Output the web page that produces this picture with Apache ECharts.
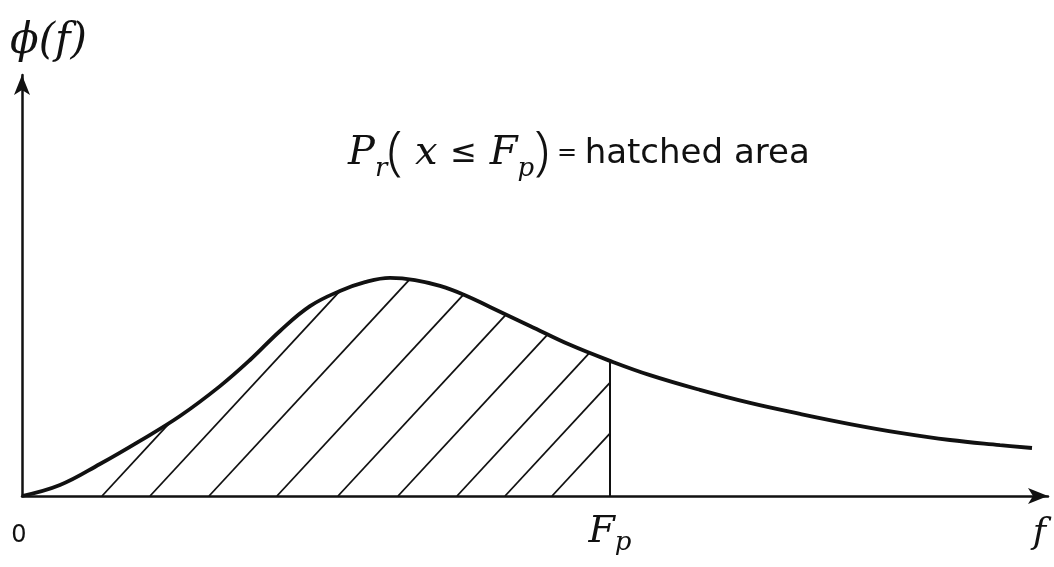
<!DOCTYPE html>
<html>
<head>
<meta charset="utf-8">
<script src="https://cdn.jsdelivr.net/npm/echarts@6/dist/echarts.min.js"></script>
<style>
  html, body { margin: 0; padding: 0; background: #fff; }
  #chart { width: 1054px; height: 567px; }
</style>
</head>
<body>
<div id="chart"></div>
<script>
// Probability density phi(f), sampled along f
const curveF   = [0, 0.370, 0.760, 1.150, 1.540, 1.930, 2.222, 2.515, 2.807, 3.099, 3.343, 3.587, 3.830, 4.074, 4.318, 4.561, 4.951, 5.341, 5.731, 6.121, 6.608, 7.096, 7.583, 8.070, 8.558, 9.045, 9.532, 9.844];
const curvePhi = [0, 0.026, 0.076, 0.131, 0.190, 0.261, 0.323, 0.392, 0.451, 0.487, 0.508, 0.518, 0.513, 0.499, 0.477, 0.449, 0.404, 0.359, 0.321, 0.287, 0.252, 0.221, 0.195, 0.171, 0.150, 0.133, 0.121, 0.114];

// Threshold F_p and the height of the density where it is cut off
const fp = 5.731;
const fpTop = 0.321;

// Where each hatch stroke of the shaded region starts on the f axis
const hatchStarts = [0.780, 1.248, 1.823, 2.485, 3.080, 3.665, 4.240, 4.708, 5.166];

// Tick positions and their labels on the f axis
const xTickValues = [0, fp];
const xTickLabels = ['{n|0}', '{i|F}{s|p}'];

const INK = '#111';
const HATCH_RISE = 1.08; // hatch strokes climb this many px per px to the right

const curveData = curveF.map((f, i) => [f, curvePhi[i]]);
const hatchData = hatchStarts.map(f => [f, 0]);

// Each hatch stroke runs up-right from the axis until it meets the curve or the F_p line
function renderHatch(params, api) {
  const base = api.coord([api.value(0), 0]);
  const k = HATCH_RISE;
  let tBest = api.coord([fp, 0])[0] - base[0];
  const pts = curveData.map(d => api.coord(d));
  for (let i = 0; i < pts.length - 1; i++) {
    const a = pts[i], b = pts[i + 1];
    const dx = b[0] - a[0], dy = b[1] - a[1];
    const den = dy + k * dx;
    if (Math.abs(den) < 1e-9) continue;
    const s = (base[1] - k * (a[0] - base[0]) - a[1]) / den;
    if (s < 0 || s > 1) continue;
    const t = a[0] + s * dx - base[0];
    if (t > 0 && t < tBest) tBest = t;
  }
  return {
    type: 'line',
    shape: { x1: base[0], y1: base[1], x2: base[0] + tBest, y2: base[1] - k * tBest },
    style: { stroke: INK, lineWidth: 1.8 }
  };
}

const mathFont = 'DejaVu Serif';
const wordFont = 'DejaVu Sans';
const parenFont = 'Noto Sans';

const chart = echarts.init(document.getElementById('chart'), null, { renderer: 'canvas' });
chart.setOption({
  backgroundColor: '#fff',
  animation: false,
  title: {
    text: '{i|P}{s|r}{p|(}{i| x }{m|≤}{i| F}{s|p}{p|)}{e| = }{w|hatched area}',
    left: 343,
    top: 121,
    textStyle: {
      fontWeight: 'normal',
      rich: {
        i: { fontFamily: mathFont, fontStyle: 'italic', fontWeight: 'normal', fontSize: 40, color: INK },
        s: { fontFamily: mathFont, fontStyle: 'italic', fontWeight: 'normal', fontSize: 26, color: INK, padding: [30, 0, 0, 0] },
        p: { fontFamily: parenFont, fontWeight: 300, fontSize: 54, color: INK },
        m: { fontFamily: wordFont, fontWeight: 'normal', fontSize: 32, color: INK },
        e: { fontFamily: wordFont, fontWeight: 'normal', fontSize: 24, color: INK },
        w: { fontFamily: wordFont, fontWeight: 'normal', fontSize: 34, color: INK }
      }
    }
  },
  grid: { left: 22, right: 6, top: 75, bottom: 71, outerBoundsMode: 'none' },
  xAxis: {
    type: 'value',
    min: 0,
    max: 10,
    name: 'f',
    nameLocation: 'end',
    nameGap: 0,
    nameMoveOverlap: false,
    nameTextStyle: {
      fontFamily: mathFont, fontStyle: 'italic', fontSize: 36, color: INK,
      align: 'right', verticalAlign: 'top', padding: [20, 2, 0, 0]
    },
    axisLine: {
      show: true,
      symbol: ['none', 'arrow'],
      symbolSize: [12, 20],
      lineStyle: { color: INK, width: 2.5 }
    },
    axisTick: { show: false },
    splitLine: { show: false },
    axisLabel: {
      customValues: xTickValues,
      margin: 12,
      formatter: v => xTickLabels[xTickValues.indexOf(v)] || '',
      rich: {
        n: { fontFamily: wordFont, fontSize: 24, color: INK, padding: [16, 6, 0, 0] },
        i: { fontFamily: mathFont, fontStyle: 'italic', fontSize: 38, color: INK },
        s: { fontFamily: mathFont, fontStyle: 'italic', fontSize: 26, color: INK, padding: [22, 0, 0, 0] }
      }
    }
  },
  yAxis: {
    type: 'value',
    min: 0,
    max: 1,
    name: 'ϕ(f)',
    nameLocation: 'end',
    nameGap: 12,
    nameMoveOverlap: false,
    nameTextStyle: {
      fontFamily: mathFont, fontStyle: 'italic', fontSize: 42, color: INK,
      align: 'left', padding: [0, 0, 0, -12]
    },
    axisLine: {
      show: true,
      symbol: ['none', 'arrow'],
      symbolSize: [12, 20],
      lineStyle: { color: INK, width: 2.5 }
    },
    axisTick: { show: false },
    axisLabel: { show: false },
    splitLine: { show: false }
  },
  series: [
    {
      type: 'custom',
      name: 'hatch',
      renderItem: renderHatch,
      data: hatchData,
      encode: { x: 0, y: 1 },
      silent: true,
      z: 2
    },
    {
      type: 'line',
      name: 'phi',
      data: curveData,
      smooth: 0.4,
      symbol: 'none',
      lineStyle: { color: INK, width: 3.8 },
      silent: true,
      z: 3,
      markLine: {
        silent: true,
        symbol: ['none', 'none'],
        label: { show: false },
        lineStyle: { color: INK, width: 2, type: 'solid' },
        data: [[{ coord: [fp, 0] }, { coord: [fp, fpTop] }]]
      }
    }
  ]
});
</script>
</body>
</html>
